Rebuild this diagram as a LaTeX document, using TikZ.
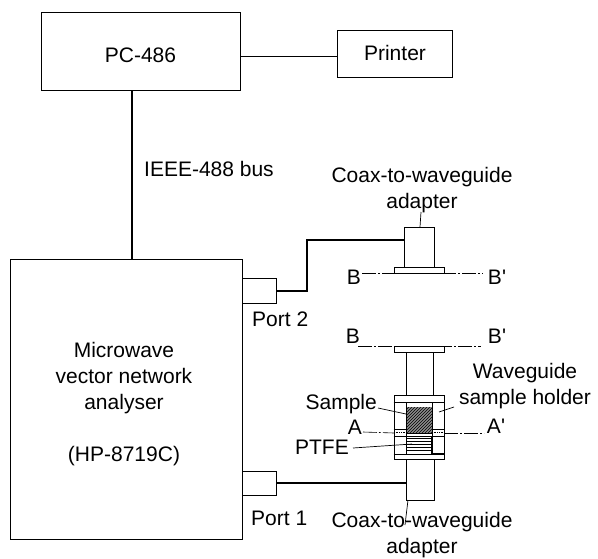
\documentclass[tikz,border=0pt]{standalone}
\usepackage{fontspec}
\setmainfont{Liberation Sans}
\usetikzlibrary{patterns}
\begin{document}
\begin{tikzpicture}[x=1pt,y=-1pt,
 boxs/.style={draw,line width=0.9pt,inner sep=0pt},
 lbl/.style={inner sep=0pt,font=\fontsize{21}{26}\selectfont,align=center},
 thin line/.style={line width=0.7pt},
 cable/.style={line width=2pt},
 axis/.style={line width=0.6pt,dash pattern=on 14pt off 2pt on 2pt off 2pt}]
\useasboundingbox (0,0) rectangle (598,558);
\node[boxs,minimum width=199.5pt,minimum height=78pt] (pc) at (140.7,51) {};
\node[lbl] at (140.5,55) {PC-486};
\node[boxs,minimum width=114.5pt,minimum height=47pt] (pr) at (394.7,53.5) {};
\node[lbl] at (395,53) {Printer};
\node[boxs,minimum width=232pt,minimum height=280pt] (na) at (126,399) {};
\node[lbl] at (124,404) {Microwave\\vector network\\analyser\\[26pt](HP-8719C)};
\draw[thin line] (pc.east|-0,56) -- (pr.west|-0,56);
\draw[cable] (pc.south-|132,0) -- (na.north-|132,0);
\node[lbl,anchor=west] at (144,169) {IEEE-488 bus};
\node[boxs,minimum width=34pt,minimum height=25pt] (p2) at (259,290.5) {};
\node[boxs,minimum width=34pt,minimum height=24pt] (p1) at (259,483) {};
\node[lbl,anchor=west] at (252,319) {Port 2};
\node[lbl,anchor=west] at (251,518) {Port 1};
% top adapter
\node[boxs,minimum width=30pt,minimum height=40pt] (ad2) at (419,247) {};
\node[boxs,minimum width=50pt,minimum height=6pt] (fl2) at (419,270) {};
\coordinate (j2) at (307,240);
\draw[cable] (p2.east) -- (307,290.5) -- (j2) -- (ad2.west|-j2);
\node[lbl] (t2) at (422,190) {Coax-to-waveguide\\adapter};
\draw[thin line] (420,227) -- (421,212);
\node[lbl] (b1) at (354,277) {B};
\node[lbl] (b2) at (497,277) {B\textquotesingle};
\draw[axis] (362,273) -- (483,273);
% holder
\node[boxs,minimum width=50pt,minimum height=6pt] (fl1) at (419,349) {};
\node[boxs,minimum width=27pt,minimum height=43pt] (wg) at (419.5,373.5) {};
\node[boxs,minimum width=50pt,minimum height=64pt] (hd) at (419,427) {};
\draw[thin line] (hd.west|-0,402) -- (hd.east|-0,402);
\draw[thin line] (hd.west|-0,429) -- (406,429) (432,429) -- (hd.east|-0,429);
\draw[thin line] (hd.west|-0,436) -- (hd.east|-0,436);
\draw[thin line] (hd.west|-0,454) -- (hd.east|-0,454);
\fill[black!45] (406,407) rectangle (432,433);
\fill[pattern=north east lines,pattern color=black] (406,407) rectangle (432,433);
\draw[thin line] (406,402) -- (406,454) (432,402) -- (432,454);
\draw[line width=1.6pt] (406,433.5) -- (432,433.5);
\draw[line width=1.4pt] (432,436) -- (432,453.5) -- (444,453.5);
\draw[thin line,densely dotted] (394,432) -- (406,432) (432,432) -- (444,432);
\foreach \yy in {438,441,444,447,450} \draw[line width=0.5pt] (406,\yy) -- (432,\yy);
\node[boxs,minimum width=28pt,minimum height=41pt] (ad1) at (420,479.5) {};
\draw[cable] (p1.east) -- (ad1.west|-p1.east);
\node[lbl] (b3) at (353,336) {B};
\node[lbl] (b4) at (497,336) {B\textquotesingle};
\draw[axis] (358,346) -- (481,346);
\node[lbl] (a1) at (355,427) {A};
\node[lbl] (a2) at (496,426) {A\textquotesingle};
\draw[axis] (363,432) -- (394,433);
\draw[axis] (444,433) -- (484,433);
\node[lbl,anchor=east] (sa) at (377,404) {Sample};
\node[lbl,anchor=east] (pt) at (349,447) {PTFE};
\draw[thin line] (378,408) -- (406,414);
\draw[thin line] (353,448) -- (412,444);
\node[lbl] (wh) at (525,386.5) {Waveguide\\sample holder};
\draw[thin line] (454,407) -- (439,412);
\node[lbl] (t1) at (422,535) {Coax-to-waveguide\\adapter};
\draw[thin line] (408,500) -- (405,525);
\end{tikzpicture}
\end{document}
